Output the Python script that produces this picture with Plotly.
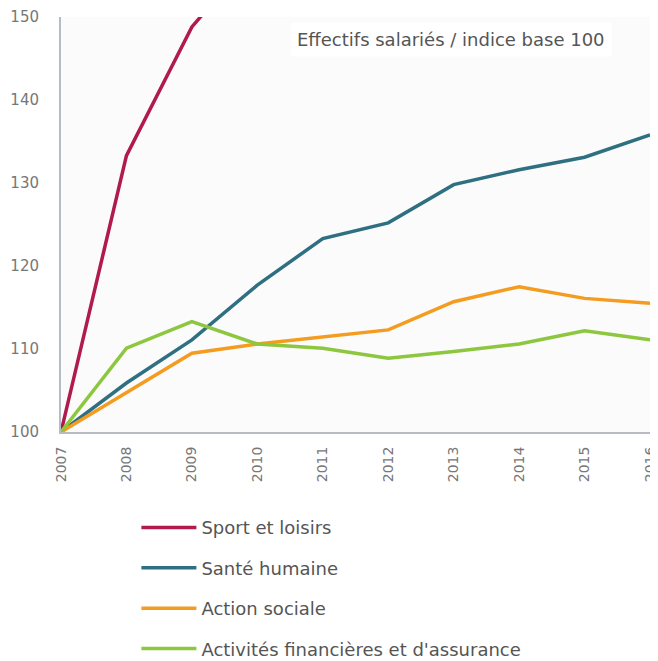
import plotly.graph_objects as go

years = ["2007", "2008", "2009", "2010", "2011", "2012", "2013", "2014", "2015", "2016"]
sport = [100, 133.3, 148.8, 158, 163, 167, 171, 174, 177, 180]
sante = [100, 105.9, 111.1, 117.7, 123.3, 125.2, 129.8, 131.6, 133.1, 135.8]
action = [100, 104.7, 109.5, 110.6, 111.4, 112.3, 115.7, 117.5, 116.1, 115.5]
financ = [100, 110.1, 113.3, 110.6, 110.1, 108.9, 109.7, 110.6, 112.2, 111.1]

names = ["Sport et loisirs", "Santé humaine", "Action sociale", "Activités financières et d'assurance"]
colors = ["#B01A4C", "#2F6F82", "#F39C1F", "#8DC63F"]
series = [sport, sante, action, financ]

fig = go.Figure()
for i, (n, c, s) in enumerate(zip(names, colors, series)):
    fig.add_trace(go.Scatter(x=years, y=s, mode="lines", name=n,
                             line=dict(color=c, width=3.5), legendgroup=str(i)))

FONT = "DejaVu Sans, Arial, sans-serif"
fig.update_layout(
    width=650, height=653,
    margin=dict(l=53, r=8, t=9, b=229, autoexpand=False),
    paper_bgcolor="white",
    plot_bgcolor="#fbfbfb",
    font=dict(family=FONT, size=15, color="#555"),
    showlegend=True,
    legend=dict(x=0.128, y=-0.186, xanchor="left", yanchor="top",
                tracegroupgap=14, traceorder="grouped", itemwidth=55,
                font=dict(family=FONT, size=18, color="#555"), bgcolor="rgba(0,0,0,0)"),
    xaxis=dict(type="category", range=[0, 9], showgrid=False, zeroline=False,
               showline=True, linecolor="#b7bcc4", linewidth=2, automargin=False,
               tickangle=-90, ticks="outside", ticklen=7, tickcolor="rgba(0,0,0,0)",
               tickfont=dict(family=FONT, size=14, color="#777")),
    yaxis=dict(range=[100, 150], tickvals=[100, 110, 120, 130, 140, 150],
               showgrid=False, zeroline=False, showline=True, automargin=False,
               linecolor="#b7bcc4", linewidth=2, ticks="outside", ticklen=17,
               tickcolor="rgba(0,0,0,0)",
               tickfont=dict(family=FONT, size=15, color="#777")),
    annotations=[dict(text="Effectifs salariés / indice base 100", xref="paper", yref="paper",
                      x=0.935, y=0.945, xanchor="right", yanchor="middle", showarrow=False,
                      font=dict(family=FONT, size=18, color="#555"), bgcolor="white",
                      borderpad=6)],
)

fig.write_html("out.html")
